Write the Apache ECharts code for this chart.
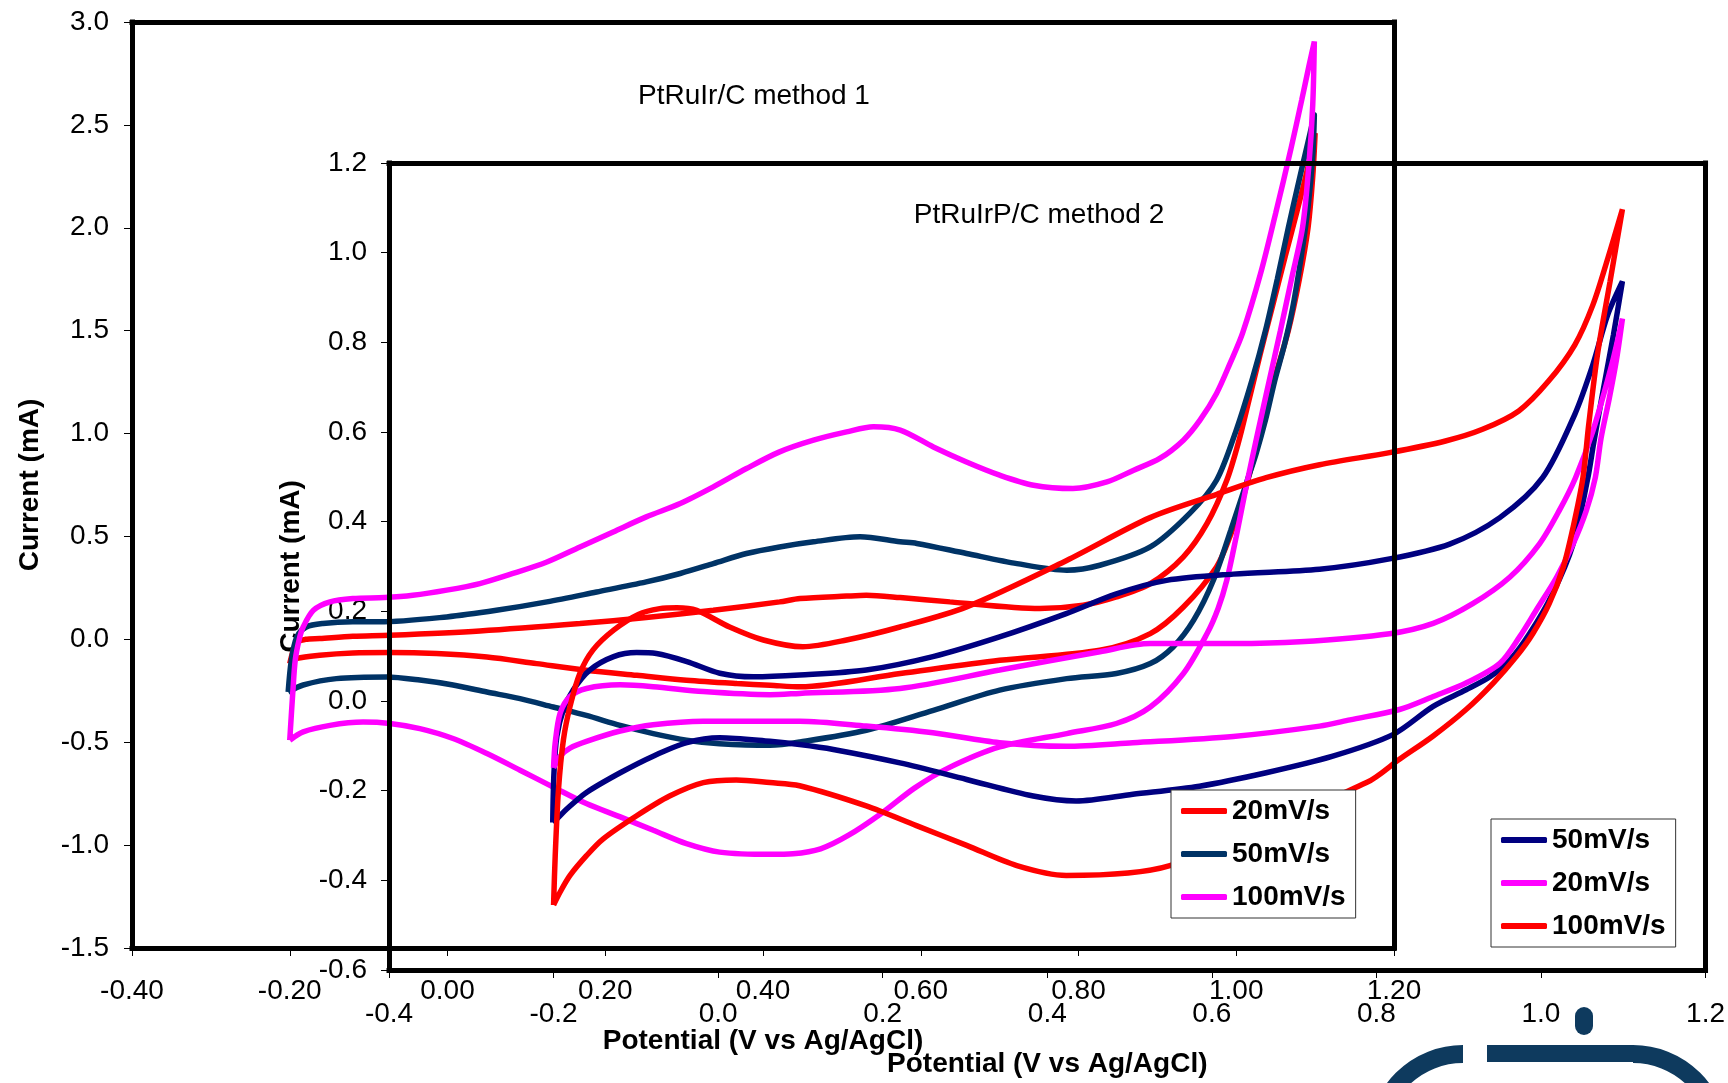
<!DOCTYPE html>
<html>
<head>
<meta charset="utf-8">
<script src="https://cdn.jsdelivr.net/npm/echarts@6/dist/echarts.min.js"></script>
<style>
  html, body { margin: 0; padding: 0; background: #fff; }
  #chart { width: 1728px; height: 1083px; }
</style>
</head>
<body>
<div id="chart"></div>
<script>
// Cyclic voltammograms: [potential (V vs Ag/AgCl), current (mA)], each loop closed on its start point.

// PtRuIr/C, method 1
const m1_100 = [[-0.200,-0.49],[-0.196,-0.25],[-0.193,-0.10],[-0.188,0.00],[-0.183,0.06],[-0.170,0.141],[-0.149,0.182],[-0.120,0.198],[-0.080,0.203],[-0.044,0.214],[-0.001,0.239],[0.041,0.271],[0.083,0.320],[0.126,0.376],[0.168,0.449],[0.210,0.522],[0.252,0.595],[0.295,0.660],[0.337,0.741],[0.379,0.830],[0.421,0.911],[0.464,0.968],[0.506,1.008],[0.540,1.033],[0.574,1.017],[0.616,0.935],[0.658,0.862],[0.700,0.798],[0.743,0.749],[0.793,0.733],[0.836,0.765],[0.870,0.822],[0.903,0.879],[0.933,0.968],[0.954,1.065],[0.975,1.195],[0.992,1.34],[1.008,1.488],[1.031,1.780],[1.050,2.071],[1.069,2.378],[1.083,2.621],[1.092,2.783],[1.099,2.905],
  [1.097,2.60],[1.092,2.30],[1.084,2.00],[1.070,1.75],[1.056,1.50],[1.042,1.26],[1.027,1.00],[1.013,0.75],[1.000,0.50],[0.988,0.287],[0.977,0.15],[0.963,0.028],[0.933,-0.166],[0.891,-0.329],[0.848,-0.409],[0.785,-0.458],[0.700,-0.523],[0.634,-0.627],[0.592,-0.723],[0.550,-0.846],[0.508,-0.953],[0.473,-1.018],[0.438,-1.042],[0.409,-1.045],[0.345,-1.034],[0.303,-0.993],[0.261,-0.928],[0.219,-0.863],[0.176,-0.798],[0.134,-0.718],[0.092,-0.636],[0.050,-0.555],[0.007,-0.482],[-0.035,-0.434],[-0.073,-0.409],[-0.107,-0.402],[-0.149,-0.418],[-0.183,-0.450],[-0.200,-0.49]];

const m1_50 = [[-0.202,-0.256],[-0.198,-0.102],[-0.191,0.012],[-0.179,0.060],[-0.158,0.077],[-0.120,0.085],[-0.086,0.085],[-0.001,0.109],[0.062,0.141],[0.126,0.182],[0.189,0.230],[0.252,0.279],[0.295,0.320],[0.337,0.368],[0.379,0.417],[0.421,0.449],[0.464,0.474],[0.523,0.498],[0.574,0.474],[0.595,0.466],[0.658,0.417],[0.722,0.368],[0.785,0.336],[0.827,0.360],[0.891,0.449],[0.941,0.612],[0.975,0.773],[1.000,1.017],[1.020,1.26],[1.037,1.50],[1.052,1.75],[1.066,2.00],[1.079,2.22],[1.090,2.40],[1.099,2.549],
  [1.097,2.35],[1.091,2.10],[1.082,1.85],[1.071,1.60],[1.061,1.43],[1.049,1.26],[1.037,1.065],[1.025,0.90],[1.014,0.773],[0.993,0.53],[0.971,0.287],[0.946,0.093],[0.920,-0.037],[0.891,-0.118],[0.848,-0.166],[0.785,-0.191],[0.700,-0.247],[0.616,-0.345],[0.531,-0.442],[0.447,-0.499],[0.409,-0.515],[0.345,-0.507],[0.303,-0.490],[0.261,-0.458],[0.219,-0.418],[0.176,-0.370],[0.134,-0.329],[0.092,-0.288],[0.050,-0.256],[0.007,-0.222],[-0.035,-0.198],[-0.077,-0.183],[-0.141,-0.191],[-0.183,-0.222],[-0.202,-0.256]];

const m1_20 = [[-0.200,-0.118],[-0.196,-0.060],[-0.191,-0.013],[-0.180,0.000],[-0.162,0.004],[-0.120,0.015],[-0.073,0.020],[0.041,0.041],[0.168,0.077],[0.252,0.106],[0.337,0.141],[0.421,0.182],[0.447,0.198],[0.506,0.210],[0.531,0.214],[0.574,0.203],[0.637,0.182],[0.751,0.150],[0.806,0.166],[0.848,0.206],[0.891,0.271],[0.933,0.401],[0.963,0.563],[0.988,0.773],[1.003,0.96],[1.016,1.16],[1.030,1.38],[1.046,1.62],[1.062,1.86],[1.077,2.08],[1.090,2.28],[1.100,2.46],
  [1.097,2.25],[1.091,2.00],[1.080,1.75],[1.066,1.50],[1.048,1.26],[1.031,1.017],[1.009,0.692],[0.992,0.50],[0.975,0.352],[0.933,0.157],[0.891,0.028],[0.827,-0.053],[0.700,-0.102],[0.574,-0.166],[0.447,-0.231],[0.409,-0.223],[0.367,-0.215],[0.303,-0.199],[0.240,-0.175],[0.176,-0.150],[0.113,-0.118],[0.050,-0.086],[-0.014,-0.069],[-0.073,-0.064],[-0.120,-0.066],[-0.162,-0.077],[-0.191,-0.093],[-0.200,-0.118]];

// PtRuIrP/C, method 2
const m2_100 = [[-0.200,-0.455],[-0.198,-0.345],[-0.194,-0.197],[-0.188,-0.086],[-0.180,-0.012],[-0.168,0.062],[-0.152,0.114],[-0.127,0.158],[-0.097,0.193],[-0.071,0.206],[-0.050,0.208],[-0.026,0.202],[0.014,0.165],[0.055,0.136],[0.103,0.121],[0.156,0.136],[0.221,0.165],[0.302,0.210],[0.423,0.313],[0.525,0.409],[0.606,0.461],[0.666,0.498],[0.731,0.527],[0.816,0.554],[0.884,0.580],[0.929,0.606],[0.973,0.647],[1.009,0.713],[1.041,0.794],[1.063,0.883],[1.081,0.986],[1.099,1.097],
  [1.084,0.936],[1.069,0.777],[1.058,0.616],[1.051,0.498],[1.039,0.387],[1.027,0.298],[1.010,0.217],[0.990,0.150],[0.970,0.099],[0.942,0.040],[0.909,-0.019],[0.869,-0.078],[0.828,-0.130],[0.788,-0.182],[0.549,-0.367],[0.423,-0.389],[0.363,-0.367],[0.302,-0.322],[0.241,-0.278],[0.180,-0.234],[0.099,-0.189],[0.063,-0.182],[0.022,-0.176],[-0.018,-0.182],[-0.059,-0.212],[-0.099,-0.256],[-0.140,-0.308],[-0.160,-0.345],[-0.180,-0.389],[-0.192,-0.426],[-0.200,-0.455]];

const m2_50 = [[-0.201,-0.271],[-0.1995,-0.160],[-0.196,-0.079],[-0.188,-0.019],[-0.176,0.025],[-0.156,0.069],[-0.127,0.099],[-0.099,0.108],[-0.075,0.106],[-0.038,0.088],[0.002,0.062],[0.043,0.054],[0.099,0.058],[0.180,0.069],[0.261,0.099],[0.342,0.143],[0.423,0.195],[0.484,0.239],[0.545,0.269],[0.626,0.283],[0.731,0.294],[0.816,0.317],[0.889,0.350],[0.950,0.409],[1.002,0.498],[1.041,0.639],[1.063,0.750],[1.081,0.861],[1.099,0.936],
  [1.088,0.816],[1.076,0.697],[1.064,0.575],[1.057,0.498],[1.039,0.350],[1.014,0.239],[0.986,0.150],[0.962,0.091],[0.938,0.054],[0.909,0.025],[0.869,-0.012],[0.820,-0.075],[0.747,-0.123],[0.666,-0.160],[0.585,-0.190],[0.504,-0.208],[0.435,-0.223],[0.383,-0.212],[0.302,-0.175],[0.221,-0.138],[0.140,-0.108],[0.099,-0.097],[0.063,-0.090],[0.002,-0.082],[-0.038,-0.093],[-0.079,-0.123],[-0.119,-0.160],[-0.160,-0.204],[-0.184,-0.241],[-0.196,-0.263],[-0.201,-0.271]];

const m2_20 = [[-0.200,-0.149],[-0.198,-0.093],[-0.192,-0.027],[-0.180,0.010],[-0.160,0.028],[-0.119,0.036],[-0.079,0.032],[-0.018,0.021],[0.063,0.014],[0.099,0.017],[0.221,0.028],[0.342,0.069],[0.464,0.110],[0.525,0.128],[0.626,0.128],[0.707,0.132],[0.816,0.150],[0.869,0.173],[0.917,0.217],[0.962,0.276],[0.998,0.350],[1.022,0.424],[1.042,0.498],[1.063,0.602],[1.086,0.750],[1.099,0.853],
  [1.092,0.764],[1.083,0.675],[1.073,0.586],[1.066,0.498],[1.055,0.424],[1.039,0.350],[1.019,0.276],[0.994,0.202],[0.974,0.143],[0.950,0.084],[0.909,0.040],[0.869,0.010],[0.828,-0.019],[0.768,-0.042],[0.731,-0.056],[0.626,-0.079],[0.504,-0.093],[0.423,-0.101],[0.342,-0.093],[0.261,-0.071],[0.180,-0.056],[0.099,-0.045],[0.063,-0.045],[-0.018,-0.045],[-0.079,-0.053],[-0.119,-0.067],[-0.160,-0.090],[-0.180,-0.105],[-0.192,-0.123],[-0.200,-0.149]];

// Axis ranges
const outerX = { min: -0.4, max: 1.2, step: 0.2, digits: 2 };
const outerY = { min: -1.5, max: 3.0, step: 0.5, digits: 1 };
const innerX = { min: -0.4, max: 1.2, step: 0.2, digits: 1 };
const innerY = { min: -0.6, max: 1.2, step: 0.2, digits: 1 };

const FONT = "'Liberation Sans', Arial, sans-serif";
const C_RED = '#FF0000', C_MAG = '#FF00FF', C_TEAL = '#003366', C_NAVY = '#000080';

function labelAxis(grid, pos, r, name, nameGap, margin) {
  return {
    type: 'value', gridIndex: grid, position: pos, min: r.min, max: r.max, interval: r.step, z: 1,
    axisLine: { show: false, onZero: false },
    axisTick: { show: true, length: 8, lineStyle: { color: '#000', width: 1 } },
    axisLabel: { formatter: v => v.toFixed(r.digits), fontSize: 28, color: '#000', fontFamily: FONT, margin: margin },
    splitLine: { show: false },
    name: name, nameLocation: 'middle', nameGap: nameGap,
    nameTextStyle: { fontSize: 28, fontWeight: 'bold', color: '#000', fontFamily: FONT }
  };
}
function frameAxis(grid, pos, r) {
  return {
    type: 'value', gridIndex: grid, position: pos, min: r.min, max: r.max, interval: r.step, z: 10,
    axisLine: { show: true, onZero: false, lineStyle: { color: '#000', width: 5, cap: 'square' } },
    axisTick: { show: false }, axisLabel: { show: false }, splitLine: { show: false }
  };
}
function loop(name, data, color, idx) {
  return {
    name: name, type: 'line', xAxisIndex: idx, yAxisIndex: idx, data: data,
    showSymbol: false, symbol: 'none', smooth: 0.3, z: 2,
    lineStyle: { color: color, width: 5.5 }, itemStyle: { color: color }
  };
}
const legendBase = {
  orient: 'vertical', icon: 'roundRect', itemWidth: 46, itemHeight: 6, itemGap: 15,
  padding: [7, 10], backgroundColor: '#fff', borderColor: '#333', borderWidth: 1, z: 20,
  selectedMode: false,
  formatter: n => n.split(' ').pop(),
  textStyle: { fontSize: 28, fontWeight: 'bold', color: '#000', fontFamily: FONT }
};

const chart = echarts.init(document.getElementById('chart'), null, { renderer: 'canvas' });
chart.setOption({
  animation: false,
  backgroundColor: '#fff',
  grid: [
    { left: 132, top: 22, right: 334, bottom: 135 },
    { left: 389, top: 163, right: 22, bottom: 108 }
  ],
  xAxis: [
    labelAxis(0, 'bottom', outerX, 'Potential (V vs Ag/AgCl)', 79, 29),
    labelAxis(1, 'bottom', innerX, 'Potential (V vs Ag/AgCl)', 80, 30),
    frameAxis(0, 'bottom', outerX), frameAxis(0, 'top', outerX),
    frameAxis(1, 'bottom', innerX), frameAxis(1, 'top', innerX)
  ],
  yAxis: [
    labelAxis(0, 'left', outerY, 'Current (mA)', 88, 23),
    labelAxis(1, 'left', innerY, 'Current (mA)', 84, 22),
    frameAxis(0, 'left', outerY), frameAxis(0, 'right', outerY),
    frameAxis(1, 'left', innerY), frameAxis(1, 'right', innerY)
  ],
  legend: [
    Object.assign({}, legendBase, { left: 1171, top: 790,
      data: ['PtRuIr/C 20mV/s', 'PtRuIr/C 50mV/s', 'PtRuIr/C 100mV/s'] }),
    Object.assign({}, legendBase, { left: 1491, top: 819,
      data: ['PtRuIrP/C 50mV/s', 'PtRuIrP/C 20mV/s', 'PtRuIrP/C 100mV/s'] })
  ],
  series: [
    loop('PtRuIr/C 20mV/s', m1_20, C_RED, 0),
    loop('PtRuIr/C 50mV/s', m1_50, C_TEAL, 0),
    loop('PtRuIr/C 100mV/s', m1_100, C_MAG, 0),
    loop('PtRuIrP/C 50mV/s', m2_50, C_NAVY, 1),
    loop('PtRuIrP/C 20mV/s', m2_20, C_MAG, 1),
    loop('PtRuIrP/C 100mV/s', m2_100, C_RED, 1)
  ],
  graphic: [
    { type: 'text', x: 754, y: 96, z: 0,
      style: { text: 'PtRuIr/C method 1', font: '28px ' + FONT, fill: '#000', align: 'center', verticalAlign: 'middle' } },
    { type: 'text', x: 1039, y: 215, z: 0,
      style: { text: 'PtRuIrP/C method 2', font: '28px ' + FONT, fill: '#000', align: 'center', verticalAlign: 'middle' } },
    // institute logo, cut by the lower page edge
    { type: 'arc', z: 0, shape: { cx: 1463, cy: 1140, r: 86, startAngle: Math.PI, endAngle: Math.PI * 1.5, clockwise: true },
      style: { stroke: '#0e3a5e', lineWidth: 18, fill: null } },
    { type: 'rect', z: 0, shape: { x: 1487, y: 1045, width: 146, height: 17 }, style: { fill: '#0e3a5e' } },
    { type: 'rect', z: 0, shape: { x: 1575, y: 1007, width: 18, height: 28, r: 9 }, style: { fill: '#0e3a5e' } },
    { type: 'arc', z: 0, shape: { cx: 1633, cy: 1140, r: 86, startAngle: -Math.PI / 2, endAngle: 0, clockwise: true },
      style: { stroke: '#0e3a5e', lineWidth: 18, fill: null } }
  ]
});
</script>
</body>
</html>
